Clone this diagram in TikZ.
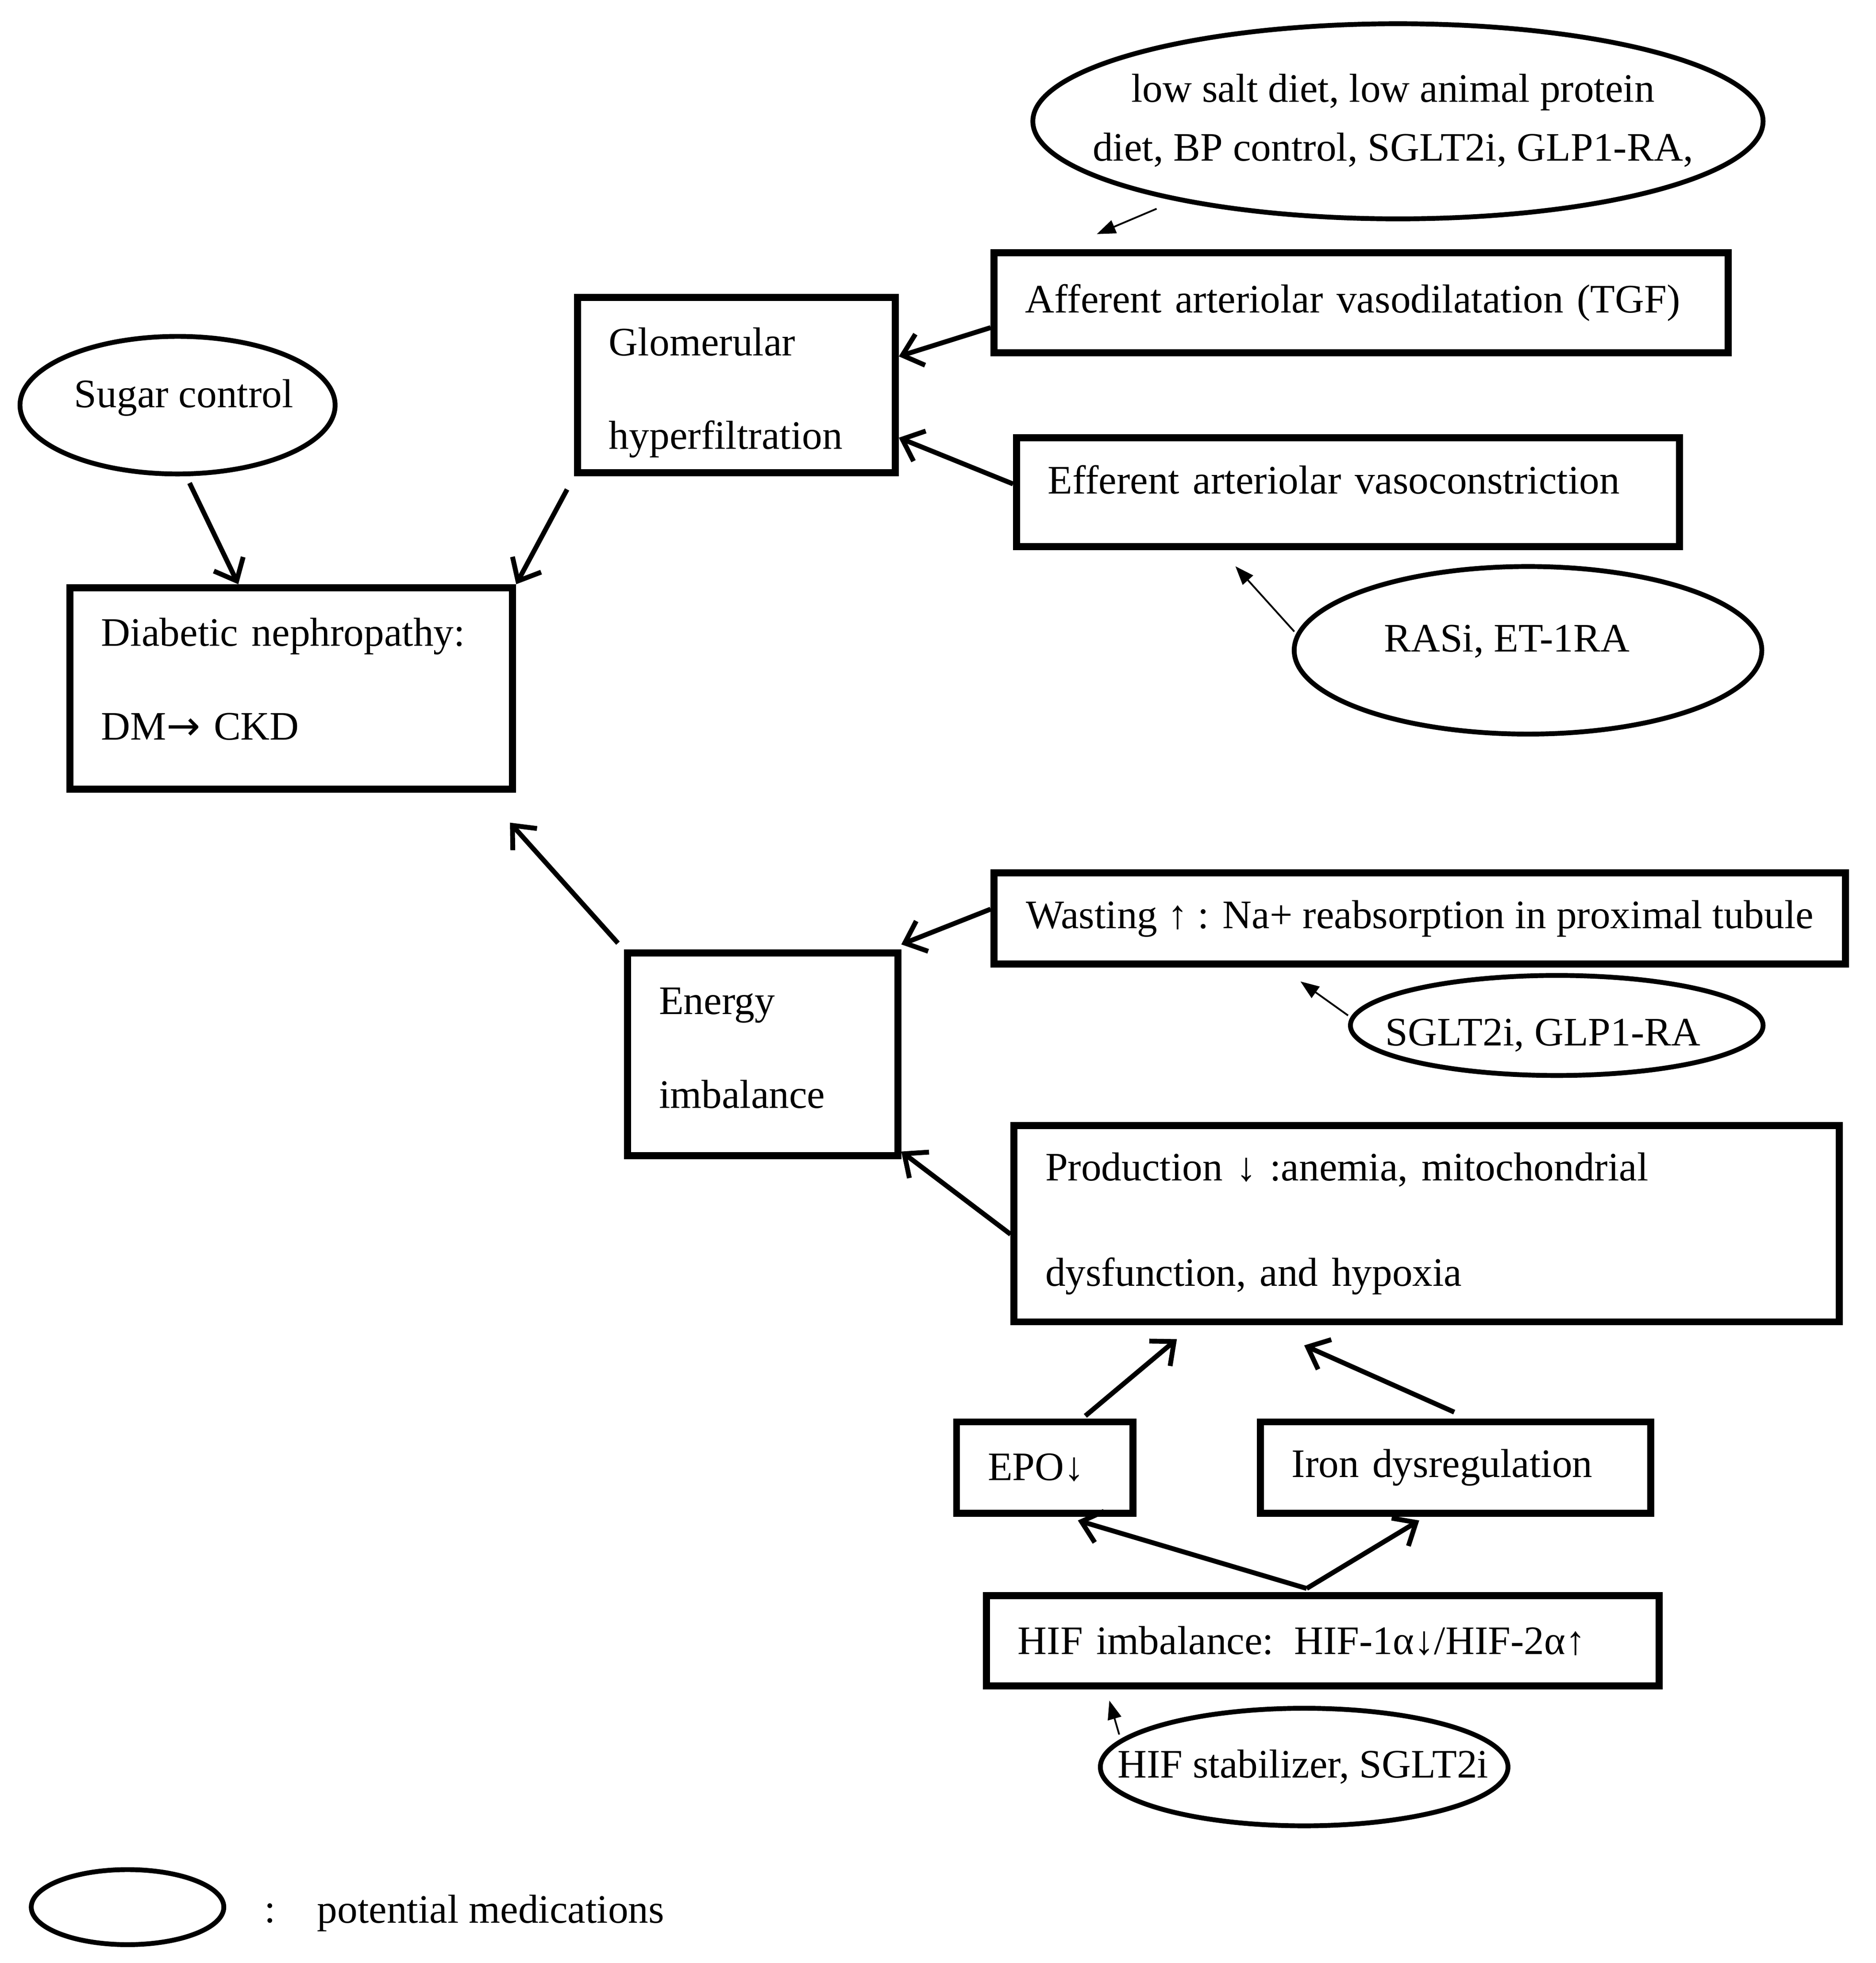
\documentclass[tikz,border=0pt]{standalone}
\usepackage{fontspec}
\setmainfont{Liberation Serif}
\newfontfamily\arrowfont{DejaVu Sans}
\usetikzlibrary{shapes.geometric, arrows.meta, calc}

\tikzset{
  box/.style={draw, line width=1.6pt, inner xsep=0.25cm, inner ysep=0pt, align=left, font=\fontsize{9.2}{11}\selectfont},
  twoline/.style={font=\fontsize{9.2}{21.3}\selectfont},
  med/.style={draw, ellipse, line width=1.1pt, inner sep=0pt},
  txt/.style={inner sep=0pt, font=\fontsize{9.2}{11}\selectfont},
  arr/.style={-{Straight Barb[length=1.5mm,width=2.6mm]}, line width=1.1pt},
  thinarr/.style={-{Triangle[length=1.5mm,width=1.1mm]}, line width=0.4pt},
}

\begin{document}
\begin{tikzpicture}
    \useasboundingbox (0,0) rectangle (15.0,-15.697);

    % boxes
    \node[box, twoline, text width=2.04cm, minimum height=1.40cm, text depth=0.70cm] (gh) at (5.89,-3.08) {Glomerular\\hyperfiltration};
    \node[box, twoline, text width=3.04cm, minimum height=1.61cm, text depth=0.90cm] (dn) at (2.33,-5.505) {Diabetic nephropathy:\\DM{\arrowfont →} CKD};
    \node[box, text width=5.37cm, minimum height=0.80cm] (aff) at (10.885,-2.42) {Afferent arteriolar vasodilatation (TGF)};
    \node[box, text width=4.80cm, minimum height=0.87cm, text depth=0.20cm] (eff) at (10.78,-3.935) {Efferent arteriolar vasoconstriction};
    \node[box, minimum width=6.81cm, minimum height=0.73cm] (wast) at (11.355,-7.345) {Wasting ↑ : Na+ reabsorption in proximal tubule};
    \node[box, twoline, text width=1.66cm, minimum height=1.62cm, text depth=0.85cm] (en) at (6.10,-8.43) {Energy\\imbalance};
    \node[box, text width=6.10cm, minimum height=1.57cm, font=\fontsize{9.2}{23.9}\selectfont] (prod) at (11.41,-9.785) {Production ↓ :anemia, mitochondrial\\dysfunction, and hypoxia};
    \node[box, text width=0.91cm, minimum height=0.73cm] (epo) at (8.355,-11.735) {EPO↓};
    \node[box, text width=2.62cm, minimum height=0.73cm] (iron) at (11.64,-11.735) {Iron dysregulation};
    \node[box, text width=4.88cm, minimum height=0.72cm] (hif) at (10.58,-13.12) {HIF imbalance: HIF-1α↓/HIF-2α↑};

    % medications
    \node[med, minimum width=5.84cm, minimum height=1.56cm] (lowsalt) at (11.18,-0.97) {};
    \node[txt, align=center, font=\fontsize{9.2}{13.4}\selectfont] (lowsalt-t) at (11.14,-0.965) {low salt diet, low animal protein\\diet, BP control, SGLT2i, GLP1-RA,};
    \node[med, minimum width=2.52cm, minimum height=1.10cm] (sugar) at (1.42,-3.24) {};
    \node[txt] (sugar-t) at (1.47,-3.18) {Sugar control};
    \node[med, minimum width=3.74cm, minimum height=1.34cm] (rasi) at (12.22,-5.20) {};
    \node[txt] (rasi-t) at (12.05,-5.13) {RASi, ET-1RA};
    \node[med, minimum width=3.30cm, minimum height=0.80cm] (sglt) at (12.45,-8.20) {};
    \node[txt] (sglt-t) at (12.34,-8.28) {SGLT2i, GLP1-RA};
    \node[med, minimum width=3.26cm, minimum height=0.94cm] (hifst) at (10.43,-14.13) {};
    \node[txt] (hifst-t) at (10.42,-14.13) {HIF stabilizer, SGLT2i};

    % legend
    \node[med, minimum width=1.54cm, minimum height=0.60cm] (legend) at (1.02,-15.25) {};
    \node[txt] (colon) at (2.16,-15.30) {:};
    \node[txt, anchor=west] (legend-t) at (2.53,-15.30) {potential medications};

    % thick arrows
    \draw[arr, shorten <=0.6mm] (sugar.-83) -- (dn.117);
    \draw[arr, shorten <=1.2mm] (gh.south west) -- (dn.north east);
    \draw[arr] ($(aff.west)+(0,-0.2)$) -- ($(gh.east)+(0,0.23)$);
    \draw[arr] ($(eff.west)+(0,0.065)$) -- ($(gh.east)+(0,-0.42)$);
    \draw[arr] ($(en.north west)+(-0.05,0.05)$) -- ($(dn.south east)+(-0.05,-0.24)$);
    \draw[arr] ($(wast.west)+(0,0.075)$) -- ($(en.north east)+(0,0.04)$);
    \draw[arr] ($(prod.west)+(0,-0.085)$) -- ($(en.south east)+(0,0.06)$);
    \draw[arr] ($(epo.north)+(0.325,0.02)$) -- ($(prod.south west)+(1.33,-0.11)$);
    \draw[arr] ($(iron.north)+(-0.01,0.05)$) -- ($(prod.south)+(-0.98,-0.16)$);
    \draw[arr] ($(hif.north)+(-0.13,0.03)$) -- ($(epo.south)+(0.265,-0.03)$);
    \draw[arr] ($(hif.north)+(-0.13,0.03)$) -- ($(iron.south)+(-0.29,-0.03)$);

    % thin arrows
    \draw[thinarr] ($(lowsalt.south)+(-1.93,0.10)$) -- ($(aff.north west)+(0.85,0.12)$);
    \draw[thinarr] ($(rasi.west)+(0.02,0.15)$) -- ($(eff.south)+(-0.90,-0.13)$);
    \draw[thinarr] ($(sglt.west)+(0,0.08)$) -- ($(wast.south)+(-0.955,-0.11)$);
    \draw[thinarr] ($(hifst.west)+(0.17,0.26)$) -- ($(hif.south west)+(1.01,-0.09)$);
\end{tikzpicture}
\end{document}
